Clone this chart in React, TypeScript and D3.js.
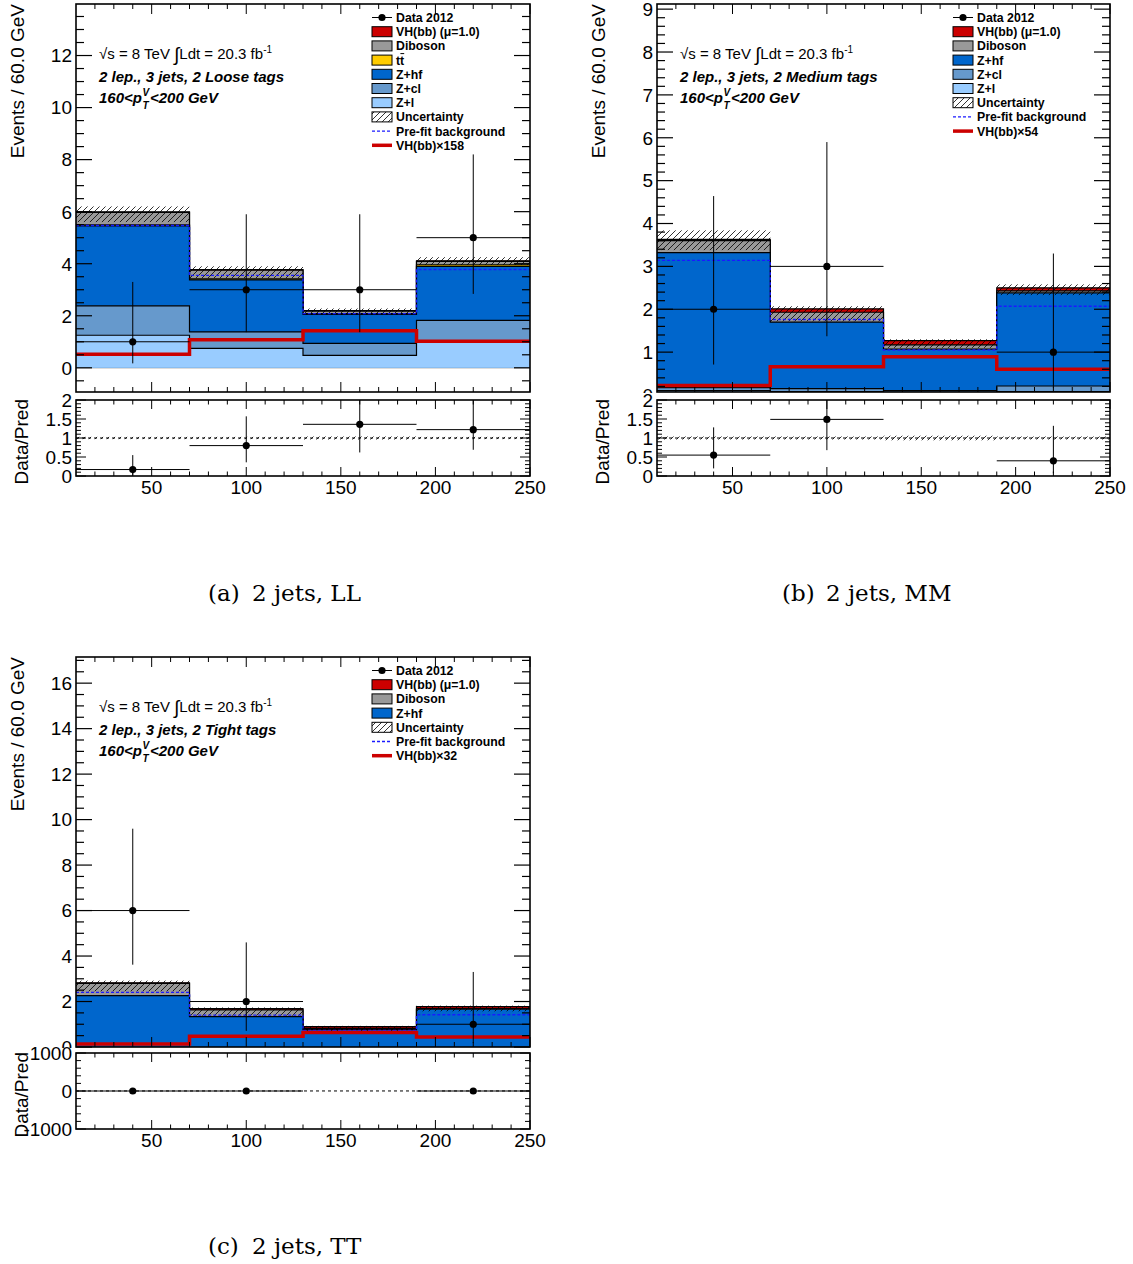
import React from "react";
import * as d3 from "d3";

// ---------- shared binning / axis data ----------
const binEdges = [10, 70, 130, 190, 250];
const xMajorTicks = [50, 100, 150, 200, 250];
const xMajorLabels = ["50", "100", "150", "200", "250"];

// ---------- panel (a) 2 jets, LL ----------
const aZl = [1.25, 0.75, 0.48, 1.0];
const aZcl = [1.13, 0.63, 0.46, 0.82];
const aZhf = [3.07, 2.0, 1.11, 2.08];
const aTt = [0.04, 0.04, 0.03, 0.06];
const aDiboson = [0.48, 0.33, 0.1, 0.13];
const aVH = [0.02, 0.02, 0.02, 0.02];
const aUncLow = [5.6, 3.45, 2.05, 3.95];
const aUncHigh = [6.2, 3.9, 2.28, 4.25];
const aPrefit = [5.47, 3.55, 2.08, 3.78];
const aVHScaled = [0.52, 1.08, 1.42, 1.02];
const aData = [1, 3, 3, 5];
const aDataLow = [0.17, 1.37, 1.37, 2.84];
const aDataHigh = [3.3, 5.9, 5.9, 8.2];
const aRatio = [0.17, 0.8, 1.36, 1.22];
const aRatioLow = [0.03, 0.36, 0.62, 0.69];
const aRatioHigh = [0.55, 1.57, 2.69, 2.1];
const aRatioBand = [0.03, 0.03, 0.04, 0.03];
const aYTicks = [0, 2, 4, 6, 8, 10, 12];

// ---------- panel (b) 2 jets, MM ----------
const bZl = [0.1, 0.08, 0.05, 0.08];
const bZcl = [0.07, 0.07, 0.05, 0.13];
const bZhf = [3.15, 1.55, 0.97, 2.17];
const bDiboson = [0.28, 0.23, 0.1, 0.05];
const bVH = [0.03, 0.08, 0.1, 0.07];
const bUncLow = [3.38, 1.72, 1.1, 2.33];
const bUncHigh = [3.84, 2.07, 1.3, 2.58];
const bPrefit = [3.14, 1.76, 1.05, 2.07];
const bVHScaled = [0.22, 0.66, 0.89, 0.6];
const bData = [2, 3, null, 1];
const bDataLow = [0.71, 1.37, null, 0.17];
const bDataHigh = [4.64, 5.9, null, 3.3];
const bRatio = [0.55, 1.49, null, 0.4];
const bRatioLow = [0.2, 0.68, null, 0.07];
const bRatioHigh = [1.28, 2.94, null, 1.32];
const bRatioBand = [0.04, 0.04, 0.06, 0.04];
const bYTicks = [0, 1, 2, 3, 4, 5, 6, 7, 8, 9];

// ---------- panel (c) 2 jets, TT ----------
const cZhf = [2.26, 1.34, 0.76, 1.66];
const cDiboson = [0.54, 0.29, 0.06, 0.04];
const cVH = [0.02, 0.06, 0.08, 0.08];
const cUncLow = [2.45, 1.38, 0.7, 1.57];
const cUncHigh = [2.92, 1.74, 0.93, 1.82];
const cPrefit = [2.4, 1.4, 0.73, 1.42];
const cVHScaled = [0.13, 0.47, 0.64, 0.44];
const cData = [6, 2, null, 1];
const cDataLow = [3.62, 0.71, null, 0.17];
const cDataHigh = [9.6, 4.6, null, 3.3];
const cRatio = [0, 0, null, 0];
const cRatioLow = [0, 0, null, 0];
const cRatioHigh = [0, 0, null, 0];
const cRatioBand = [0, 0, 0, 0];
const cYTicks = [0, 2, 4, 6, 8, 10, 12, 14, 16];

const ratioTicksStd = [0, 0.5, 1, 1.5, 2];
const ratioLabelsStd = ["0", "0.5", "1", "1.5", "2"];
const ratioTicksC = [-1000, 0, 1000];
const ratioLabelsC = ["-1000", "0", "1000"];

// ---------- styles ----------
const COL = {
  vh: "#cc0000",
  diboson: "#999999",
  tt: "#ffcc00",
  zhf: "#0066cc",
  zcl: "#6699cc",
  zl: "#99ccff",
  prefit: "#1a1aff",
};
const SANS = "'Liberation Sans', Arial, Helvetica, sans-serif";
const SERIF = "'DejaVu Serif', serif";

let _ctx: any = null;
function textW(s: string, font: string) {
  if (!_ctx) _ctx = document.createElement("canvas").getContext("2d");
  if (!_ctx) return s.length * 7;
  _ctx.font = font;
  return _ctx.measureText(s).width;
}

type Layer = { values: number[]; color: string };
type LegendItem = { label: string; kind: string; color?: string };

function Panel({ cfg }: { cfg: any }) {
  const { id, x0, x1, mainTop, mainBottom, ratioTop, ratioBottom } = cfg;
  const x = d3.scaleLinear().domain([10, 250]).range([x0, x1]);
  const y = d3.scaleLinear().domain(cfg.yDomain).range([mainBottom, mainTop]);
  const yr = d3.scaleLinear().domain(cfg.ratioDomain).range([ratioBottom, ratioTop]);

  const layers: Layer[] = cfg.layers;
  const cum: number[][] = [];
  layers.forEach((l, i) => cum.push(l.values.map((v, j) => v + (i > 0 ? cum[i - 1][j] : 0))));
  const base = Math.max(0, cfg.yDomain[0]);

  const stepPath = (vals: number[], sc: any) => {
    let p = `M${x(binEdges[0])},${sc(vals[0])}`;
    vals.forEach((v, i) => {
      if (i > 0) p += `V${sc(v)}`;
      p += `H${x(binEdges[i + 1])}`;
    });
    return p;
  };
  const areaPath = (vals: number[]) => {
    let p = `M${x(binEdges[0])},${y(base)}`;
    vals.forEach((v, i) => {
      p += `V${y(v)}H${x(binEdges[i + 1])}`;
    });
    p += `V${y(base)}Z`;
    return p;
  };

  const xMinor = d3.range(20, 250, 10).filter((v) => v % 50 !== 0);
  const [ymin, ymax] = cfg.yDomain;
  const yMinor = d3
    .range(Math.ceil(ymin / cfg.yMinorStep) * cfg.yMinorStep, ymax, cfg.yMinorStep)
    .filter((v) => v >= ymin && v <= ymax);
  const [rmin, rmax] = cfg.ratioDomain;
  const rMinor = d3
    .range(Math.ceil(rmin / cfg.ratioMinorStep) * cfg.ratioMinorStep, rmax + 1e-9, cfg.ratioMinorStep)
    .filter((v) => v >= rmin - 1e-9 && v <= rmax + 1e-9);

  const ax = x0 + 23;
  const f3 = `italic bold 15px ${SANS}`;
  const w160 = textW("160<p", f3);

  const legX = x0 + 296;
  const legTX = x0 + 320;
  const legFont = `bold 12.3px ${SANS}`;
  const wT = textW("t", legFont);

  const tick = { stroke: "black", strokeWidth: 1 };

  return (
    <g>
      <defs>
        <clipPath id={`clipMain-${id}`}>
          <rect x={x0} y={mainTop} width={x1 - x0} height={mainBottom - mainTop} />
        </clipPath>
        <clipPath id={`clipRatio-${id}`}>
          <rect x={x0} y={ratioTop} width={x1 - x0} height={ratioBottom - ratioTop} />
        </clipPath>
      </defs>

      {/* ----- main pad ----- */}
      <g clipPath={`url(#clipMain-${id})`}>
        {cfg.zeroLine && (
          <line x1={x0} x2={x1} y1={y(0)} y2={y(0)} stroke="#888" strokeWidth={1} />
        )}
        {layers
          .map((l, i) => ({ l, i }))
          .reverse()
          .map(({ l, i }) => (
            <g key={i}>
              <path d={areaPath(cum[i])} fill={l.color} stroke="none" />
              <path d={stepPath(cum[i], y)} fill="none" stroke="black" strokeWidth={1.2} />
            </g>
          ))}
        {cfg.uncLow.map((lo: number, i: number) => (
          <rect
            key={i}
            x={x(binEdges[i])}
            width={x(binEdges[i + 1]) - x(binEdges[i])}
            y={y(cfg.uncHigh[i])}
            height={y(lo) - y(cfg.uncHigh[i])}
            fill="url(#hatch)"
          />
        ))}
        <path d={stepPath(cfg.prefit, y)} fill="none" stroke={COL.prefit} strokeWidth={1.4} strokeDasharray="3,2" />
        <path d={stepPath(cfg.vhScaled, y)} fill="none" stroke={COL.vh} strokeWidth={3.5} />
        {cfg.data.map((d: number | null, i: number) =>
          d === null ? null : (
            <g key={i}>
              <line x1={x(binEdges[i])} x2={x(binEdges[i + 1])} y1={y(d)} y2={y(d)} stroke="black" strokeWidth={1} />
              <line
                x1={x((binEdges[i] + binEdges[i + 1]) / 2)}
                x2={x((binEdges[i] + binEdges[i + 1]) / 2)}
                y1={y(cfg.dataLow[i])}
                y2={y(cfg.dataHigh[i])}
                stroke="black"
                strokeWidth={1}
              />
              <circle cx={x((binEdges[i] + binEdges[i + 1]) / 2)} cy={y(d)} r={3.6} fill="black" />
            </g>
          )
        )}
      </g>

      {/* main frame + ticks */}
      <rect x={x0} y={mainTop} width={x1 - x0} height={mainBottom - mainTop} fill="none" stroke="black" strokeWidth={1.6} />
      {xMajorTicks.map((t) => (
        <g key={"mx" + t}>
          <line x1={x(t)} x2={x(t)} y1={mainBottom} y2={mainBottom - 10} {...tick} />
          <line x1={x(t)} x2={x(t)} y1={mainTop} y2={mainTop + 10} {...tick} />
        </g>
      ))}
      {xMinor.map((t) => (
        <g key={"mxm" + t}>
          <line x1={x(t)} x2={x(t)} y1={mainBottom} y2={mainBottom - 5} {...tick} />
          <line x1={x(t)} x2={x(t)} y1={mainTop} y2={mainTop + 5} {...tick} />
        </g>
      ))}
      {yMinor.map((t) => {
        const major = cfg.yTicks.some((m: number) => Math.abs(m - t) < 1e-6);
        const len = major ? 16 : 8;
        return (
          <g key={"my" + t}>
            <line x1={x0} x2={x0 + len} y1={y(t)} y2={y(t)} {...tick} strokeWidth={1.2} />
            <line x1={x1} x2={x1 - len} y1={y(t)} y2={y(t)} {...tick} strokeWidth={1.2} />
          </g>
        );
      })}
      {cfg.yTicks.map((t: number) => (
        <text key={"myl" + t} x={x0 - 4} y={y(t)} dy="0.36em" textAnchor="end" fontFamily={SANS} fontSize={19}>
          {String(t)}
        </text>
      ))}
      <text
        transform={`translate(${x0 - 52},${mainTop}) rotate(-90)`}
        textAnchor="end"
        fontFamily={SANS}
        fontSize={19}
      >
        Events / 60.0 GeV
      </text>

      {/* annotation */}
      <text x={ax} y={mainTop + 54.5} fontFamily={SANS} fontSize={15} style={{ whiteSpace: "pre" }}>
        {"\u221As = 8 TeV "}
        <tspan fontSize={19} dy={2}>{"\u222B"}</tspan>
        <tspan dy={-2}>{"Ldt = 20.3 fb"}</tspan>
        <tspan fontSize={10} dy={-6}>{"-1"}</tspan>
      </text>
      <text x={ax} y={mainTop + 77.5} fontFamily={SANS} fontSize={15} fontWeight="bold" fontStyle="italic">
        {cfg.tagLine}
      </text>
      <g fontFamily={SANS} fontWeight="bold" fontStyle="italic">
        <text x={ax} y={mainTop + 98.5} fontSize={15}>
          {"160<p"}
        </text>
        <text x={ax + w160 + 0.5} y={mainTop + 92} fontSize={10}>
          V
        </text>
        <text x={ax + w160 + 0.5} y={mainTop + 105} fontSize={10}>
          T
        </text>
        <text x={ax + w160 + 8} y={mainTop + 98.5} fontSize={15}>
          {"<200 GeV"}
        </text>
      </g>

      {/* legend */}
      {cfg.legend.map((item: LegendItem, i: number) => {
        const cy = mainTop + cfg.legendOffset + i * 14.2;
        let marker: any = null;
        if (item.kind === "data") {
          marker = (
            <g>
              <line x1={legX} x2={legX + 20} y1={cy} y2={cy} stroke="black" strokeWidth={1} />
              <circle cx={legX + 10} cy={cy} r={3.6} fill="black" />
            </g>
          );
        } else if (item.kind === "box") {
          marker = <rect x={legX} y={cy - 5} width={20} height={10} fill={item.color} stroke="black" strokeWidth={1} />;
        } else if (item.kind === "hatch") {
          marker = <rect x={legX} y={cy - 5} width={20} height={10} fill="url(#hatch)" stroke="black" strokeWidth={1} />;
        } else if (item.kind === "dashed") {
          marker = <line x1={legX} x2={legX + 20} y1={cy} y2={cy} stroke={COL.prefit} strokeWidth={1.4} strokeDasharray="3,2" />;
        } else if (item.kind === "redline") {
          marker = <line x1={legX} x2={legX + 20} y1={cy} y2={cy} stroke={COL.vh} strokeWidth={3.5} />;
        }
        return (
          <g key={"leg" + i}>
            {marker}
            <text x={legTX} y={cy} dy="0.36em" fontFamily={SANS} fontSize={12.3} fontWeight="bold">
              {item.label}
            </text>
            {item.label === "tt" && (
              <line x1={legTX + wT + 0.3} x2={legTX + 2 * wT} y1={cy - 6.5} y2={cy - 6.5} stroke="black" strokeWidth={1} />
            )}
          </g>
        );
      })}

      {/* ----- ratio pad ----- */}
      <rect x={x0 - 75} y={mainBottom + 1} width={x1 - x0 + 95} height={ratioBottom - mainBottom + 30} fill="white" />
      <g clipPath={`url(#clipRatio-${id})`}>
        {cfg.ratioBand.map((b: number, i: number) =>
          b > 0 ? (
            <rect
              key={i}
              x={x(binEdges[i])}
              width={x(binEdges[i + 1]) - x(binEdges[i])}
              y={yr(1 + b)}
              height={yr(1 - b) - yr(1 + b)}
              fill="url(#hatch)"
            />
          ) : null
        )}
        <line x1={x0} x2={x1} y1={yr(1)} y2={yr(1)} stroke="black" strokeWidth={1} strokeDasharray="3,3" />
        {cfg.ratio.map((d: number | null, i: number) =>
          d === null ? null : (
            <g key={i}>
              <line x1={x(binEdges[i])} x2={x(binEdges[i + 1])} y1={yr(d)} y2={yr(d)} stroke="black" strokeWidth={1} />
              <line
                x1={x((binEdges[i] + binEdges[i + 1]) / 2)}
                x2={x((binEdges[i] + binEdges[i + 1]) / 2)}
                y1={yr(cfg.ratioLow[i])}
                y2={yr(cfg.ratioHigh[i])}
                stroke="black"
                strokeWidth={1}
              />
              <circle cx={x((binEdges[i] + binEdges[i + 1]) / 2)} cy={yr(d)} r={3.6} fill="black" />
            </g>
          )
        )}
      </g>
      <rect x={x0} y={ratioTop} width={x1 - x0} height={ratioBottom - ratioTop} fill="none" stroke="black" strokeWidth={1.6} />
      {xMajorTicks.map((t) => (
        <g key={"rx" + t}>
          <line x1={x(t)} x2={x(t)} y1={ratioBottom} y2={ratioBottom - 9} {...tick} />
          <line x1={x(t)} x2={x(t)} y1={ratioTop} y2={ratioTop + 9} {...tick} />
        </g>
      ))}
      {xMinor.map((t) => (
        <g key={"rxm" + t}>
          <line x1={x(t)} x2={x(t)} y1={ratioBottom} y2={ratioBottom - 4.5} {...tick} />
          <line x1={x(t)} x2={x(t)} y1={ratioTop} y2={ratioTop + 4.5} {...tick} />
        </g>
      ))}
      {rMinor.map((t) => {
        const major = cfg.ratioTicks.some((m: number) => Math.abs(m - t) < 1e-6);
        const len = major ? 10 : 5;
        return (
          <g key={"ry" + t}>
            <line x1={x0} x2={x0 + len} y1={yr(t)} y2={yr(t)} {...tick} />
            <line x1={x1} x2={x1 - len} y1={yr(t)} y2={yr(t)} {...tick} />
          </g>
        );
      })}
      {cfg.ratioTicks.map((t: number, i: number) => (
        <text key={"ryl" + t} x={x0 - 4} y={yr(t)} dy="0.36em" textAnchor="end" fontFamily={SANS} fontSize={19}>
          {cfg.ratioLabels[i]}
        </text>
      ))}
      {xMajorTicks.map((t, i) => (
        <text key={"rxl" + t} x={x(t)} y={ratioBottom + 11} dy="0.36em" textAnchor="middle" fontFamily={SANS} fontSize={19}>
          {xMajorLabels[i]}
        </text>
      ))}
      <text
        transform={`translate(${x0 - 48},${ratioTop - 1}) rotate(-90)`}
        textAnchor="end"
        fontFamily={SANS}
        fontSize={19}
      >
        Data/Pred
      </text>

      {/* caption */}
      <text x={cfg.capX} y={cfg.capY} fontFamily={SERIF} fontSize={23}>
        {cfg.capTag}
      </text>
      <text x={cfg.capX + 44} y={cfg.capY} fontFamily={SERIF} fontSize={23}>
        {cfg.capText}
      </text>
    </g>
  );
}

const panelA = {
  id: "a",
  x0: 76,
  x1: 530,
  mainTop: 4,
  mainBottom: 392,
  ratioTop: 400,
  ratioBottom: 476,
  yDomain: [-0.93, 13.98],
  yTicks: aYTicks,
  yMinorStep: 0.5,
  zeroLine: true,
  layers: [
    { values: aZl, color: COL.zl },
    { values: aZcl, color: COL.zcl },
    { values: aZhf, color: COL.zhf },
    { values: aTt, color: COL.tt },
    { values: aDiboson, color: COL.diboson },
    { values: aVH, color: COL.vh },
  ],
  uncLow: aUncLow,
  uncHigh: aUncHigh,
  prefit: aPrefit,
  vhScaled: aVHScaled,
  data: aData,
  dataLow: aDataLow,
  dataHigh: aDataHigh,
  ratio: aRatio,
  ratioLow: aRatioLow,
  ratioHigh: aRatioHigh,
  ratioBand: aRatioBand,
  ratioDomain: [0, 2],
  ratioTicks: ratioTicksStd,
  ratioLabels: ratioLabelsStd,
  ratioMinorStep: 0.1,
  tagLine: "2 lep., 3 jets, 2 Loose tags",
  legendOffset: 13.5,
  legend: [
    { label: "Data 2012", kind: "data" },
    { label: "VH(bb) (\u03BC=1.0)", kind: "box", color: COL.vh },
    { label: "Diboson", kind: "box", color: COL.diboson },
    { label: "tt", kind: "box", color: COL.tt },
    { label: "Z+hf", kind: "box", color: COL.zhf },
    { label: "Z+cl", kind: "box", color: COL.zcl },
    { label: "Z+l", kind: "box", color: COL.zl },
    { label: "Uncertainty", kind: "hatch" },
    { label: "Pre-fit background", kind: "dashed" },
    { label: "VH(bb)\u00D7158", kind: "redline" },
  ],
  capX: 208,
  capY: 601,
  capTag: "(a)",
  capText: "2 jets, LL",
};

const panelB = {
  id: "b",
  x0: 657,
  x1: 1110,
  mainTop: 4,
  mainBottom: 392,
  ratioTop: 400,
  ratioBottom: 476,
  yDomain: [0.07, 9.12],
  yTicks: bYTicks,
  yMinorStep: 0.2,
  zeroLine: false,
  layers: [
    { values: bZl, color: COL.zl },
    { values: bZcl, color: COL.zcl },
    { values: bZhf, color: COL.zhf },
    { values: bDiboson, color: COL.diboson },
    { values: bVH, color: COL.vh },
  ],
  uncLow: bUncLow,
  uncHigh: bUncHigh,
  prefit: bPrefit,
  vhScaled: bVHScaled,
  data: bData,
  dataLow: bDataLow,
  dataHigh: bDataHigh,
  ratio: bRatio,
  ratioLow: bRatioLow,
  ratioHigh: bRatioHigh,
  ratioBand: bRatioBand,
  ratioDomain: [0, 2],
  ratioTicks: ratioTicksStd,
  ratioLabels: ratioLabelsStd,
  ratioMinorStep: 0.1,
  tagLine: "2 lep., 3 jets, 2 Medium tags",
  legendOffset: 13.5,
  legend: [
    { label: "Data 2012", kind: "data" },
    { label: "VH(bb) (\u03BC=1.0)", kind: "box", color: COL.vh },
    { label: "Diboson", kind: "box", color: COL.diboson },
    { label: "Z+hf", kind: "box", color: COL.zhf },
    { label: "Z+cl", kind: "box", color: COL.zcl },
    { label: "Z+l", kind: "box", color: COL.zl },
    { label: "Uncertainty", kind: "hatch" },
    { label: "Pre-fit background", kind: "dashed" },
    { label: "VH(bb)\u00D754", kind: "redline" },
  ],
  capX: 782,
  capY: 601,
  capTag: "(b)",
  capText: "2 jets, MM",
};

const panelC = {
  id: "c",
  x0: 76,
  x1: 530,
  mainTop: 657,
  mainBottom: 1047,
  ratioTop: 1053,
  ratioBottom: 1129,
  yDomain: [0, 17.15],
  yTicks: cYTicks,
  yMinorStep: 0.5,
  zeroLine: false,
  layers: [
    { values: cZhf, color: COL.zhf },
    { values: cDiboson, color: COL.diboson },
    { values: cVH, color: COL.vh },
  ],
  uncLow: cUncLow,
  uncHigh: cUncHigh,
  prefit: cPrefit,
  vhScaled: cVHScaled,
  data: cData,
  dataLow: cDataLow,
  dataHigh: cDataHigh,
  ratio: cRatio,
  ratioLow: cRatioLow,
  ratioHigh: cRatioHigh,
  ratioBand: cRatioBand,
  ratioDomain: [-1000, 1000],
  ratioTicks: ratioTicksC,
  ratioLabels: ratioLabelsC,
  ratioMinorStep: 200,
  tagLine: "2 lep., 3 jets, 2 Tight tags",
  legendOffset: 13.5,
  legend: [
    { label: "Data 2012", kind: "data" },
    { label: "VH(bb) (\u03BC=1.0)", kind: "box", color: COL.vh },
    { label: "Diboson", kind: "box", color: COL.diboson },
    { label: "Z+hf", kind: "box", color: COL.zhf },
    { label: "Uncertainty", kind: "hatch" },
    { label: "Pre-fit background", kind: "dashed" },
    { label: "VH(bb)\u00D732", kind: "redline" },
  ],
  capX: 208,
  capY: 1254,
  capTag: "(c)",
  capText: "2 jets, TT",
};

export default function App() {
  return (
    <svg
      width={1133}
      height={1264}
      viewBox="0 0 1133 1264"
      style={{ position: "absolute", left: 0, top: 0, background: "white" }}
    >
      <defs>
        <pattern id="hatch" patternUnits="userSpaceOnUse" width={6} height={6}>
          <path d="M-1,1 l2,-2 M0,6 l6,-6 M5,7 l2,-2" stroke="black" strokeWidth={0.8} />
        </pattern>
      </defs>
      <rect x={0} y={0} width={1133} height={1264} fill="white" />
      <Panel cfg={panelA} />
      <Panel cfg={panelB} />
      <Panel cfg={panelC} />
    </svg>
  );
}
